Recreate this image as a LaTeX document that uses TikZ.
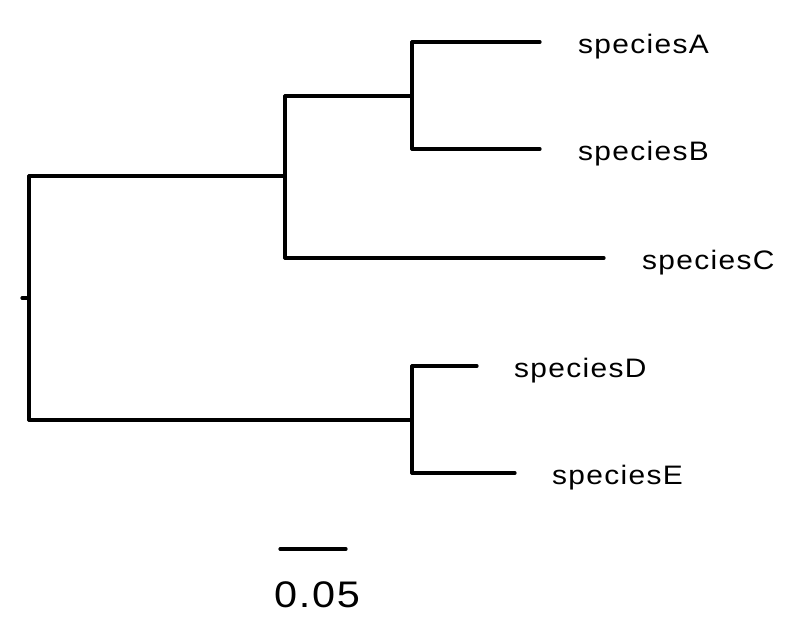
\documentclass[tikz,border=0pt]{standalone}
\usepackage{fontspec}
\setmainfont{Liberation Sans}
\begin{document}
\begin{tikzpicture}[x=1pt,y=-1pt,
  branch/.style={line width=3.2pt,line cap=round,black},
  tiplabel/.style={anchor=base west,inner sep=0pt,font=\fontsize{26.7}{32}\selectfont\addfontfeatures{FakeStretch=1.12,LetterSpace=5}},
  scalelabel/.style={anchor=base,inner sep=0pt,font=\fontsize{37}{44}\selectfont\addfontfeatures{FakeStretch=1.12,LetterSpace=4.5}}]
\useasboundingbox (0,0) rectangle (798,641);
% internal points
\coordinate (r0) at (22,298);
\coordinate (rt) at (29,298);
\coordinate (rtop) at (29,176);
\coordinate (rbot) at (29,420);
\coordinate (n1) at (285,176);
\coordinate (n1t) at (285,96);
\coordinate (n1b) at (285,258);
\coordinate (n2) at (412,96);
\coordinate (n2t) at (412,42);
\coordinate (n2b) at (412,149);
\coordinate (n3) at (412,420);
\coordinate (n3t) at (412,366);
\coordinate (n3b) at (412,473);
% tips
\coordinate (tA) at (540,42);
\coordinate (tB) at (540,149);
\coordinate (tC) at (604,258);
\coordinate (tD) at (477,366);
\coordinate (tE) at (515,473);
% labels
\node[tiplabel] (lA) at (578,53.3) {speciesA};
\node[tiplabel] (lB) at (578,160.3) {speciesB};
\node[tiplabel] (lC) at (642,269.3) {speciesC};
\node[tiplabel] (lD) at (514,377.3) {speciesD};
\node[tiplabel] (lE) at (552,484.3) {speciesE};
% tree
\draw[branch] (r0) -- (rt);
\draw[branch] (rtop) -- (rbot);
\draw[branch] (rtop) -- (n1);
\draw[branch] (rbot) -- (n3);
\draw[branch] (n1t) -- (n1b);
\draw[branch] (n1t) -- (n2);
\draw[branch] (n1b) -- (tC);
\draw[branch] (n2t) -- (n2b);
\draw[branch] (n2t) -- (tA);
\draw[branch] (n2b) -- (tB);
\draw[branch] (n3t) -- (n3b);
\draw[branch] (n3t) -- (tD);
\draw[branch] (n3b) -- (tE);
% scale bar
\coordinate (s1) at (280,549);
\coordinate (s2) at (346,549);
\draw[branch] (s1) -- (s2);
\node[scalelabel] (sl) at (317,607.5) {0.05};
\end{tikzpicture}
\end{document}
